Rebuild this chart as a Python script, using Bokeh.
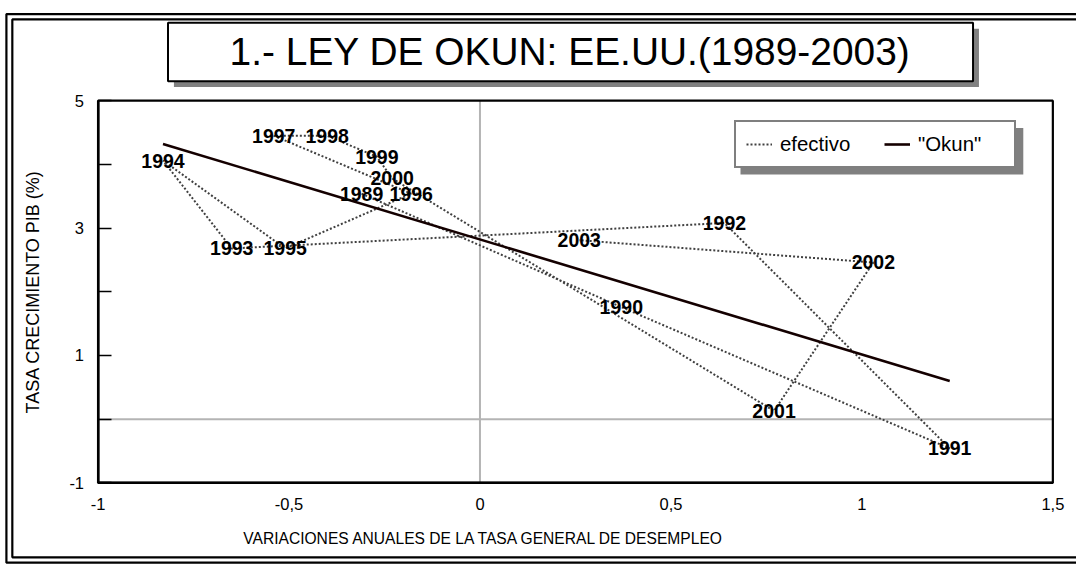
import math
from bokeh.plotting import figure
from bokeh.models import (Range1d, LinearAxis, FixedTicker, Label, Legend, LegendItem,
                          ColumnDataSource)
from bokeh.core.properties import value
from bokeh.embed import file_html
from bokeh.resources import INLINE

# ---------------- data ----------------
years = ["1989", "1990", "1991", "1992", "1993", "1994", "1995", "1996",
         "1997", "1998", "1999", "2000", "2001", "2002", "2003"]
desempleo = [-0.31, 0.37, 1.23, 0.64, -0.65, -0.83, -0.51, -0.18,
             -0.54, -0.40, -0.27, -0.23, 0.77, 1.03, 0.26]
pib = [3.54, 1.76, -0.46, 3.08, 2.68, 4.06, 2.68, 3.54,
       4.45, 4.45, 4.12, 3.78, 0.13, 2.46, 2.81]
okun_x = [-0.83, 1.23]
okun_y = [4.32, 0.60]
x_ticks = [-1, -0.5, 0, 0.5, 1, 1.5]
x_tick_labels = ["-1", "-0,5", "0", "0,5", "1", "1,5"]
y_ticks = [-1, 1, 3, 5]
y_minor = [0, 2, 4]
y_tick_labels = ["-1", "1", "3", "5"]

TITLE = "1.- LEY DE OKUN: EE.UU.(1989-2003)"
XLABEL = "VARIACIONES ANUALES DE LA TASA GENERAL DE DESEMPLEO"
YLABEL = "TASA  CRECIMIENTO PIB (%)"

# ---------------- layout ----------------
W, H = 1076, 567          # canvas
RW, RH = 1092, 583        # reference layout size
SX, SY = W / RW, H / RH
PXU, PX0 = 387.6, 486.6   # reference px per x unit, px of x=0
PYU, PY0 = 65.5, 430.5    # reference px per y unit, px of y=0
FONT = "Liberation Sans"


def dx(px):  # reference px -> data x
    return (px - PX0) / PXU


def dy(py):  # reference py -> data y
    return (PY0 - py) / PYU


def fs(size):
    return f"{size * SY:.1f}px"


p = figure(width=W, height=H, output_backend="svg", toolbar_location=None,
           x_axis_type=None, y_axis_type=None,
           x_range=Range1d(dx(0), dx(RW)), y_range=Range1d(dy(RH), dy(0)),
           min_border=0, min_border_left=0, min_border_right=0,
           min_border_top=0, min_border_bottom=0)
p.outline_line_color = None
p.background_fill_color = "white"
p.border_fill_color = "white"

# outer double border (right side lies outside the picture)
p.quad(left=[dx(6)], right=[dx(1110)], top=[dy(14)], bottom=[dy(578)],
       fill_color=None, line_color="black", line_width=2.2)
p.quad(left=[dx(12)], right=[dx(1104)], top=[dy(19.5)], bottom=[dy(572.5)],
       fill_color=None, line_color="black", line_width=2.2)

# title box with shadow
p.quad(left=[dx(176)], right=[dx(993)], top=[dy(29)], bottom=[dy(89)],
       fill_color="#808080", line_color=None)
p.quad(left=[dx(170)], right=[dx(987)], top=[dy(23)], bottom=[dy(83)],
       fill_color="white", line_color="black", line_width=2)
p.add_layout(Label(x=dx(578), y=dy(52), text=TITLE, text_align="center",
                   text_baseline="middle", text_font=FONT,
                   text_font_size=fs(40), text_color="black"))

# zero reference lines
p.segment(x0=[x_ticks[0]], y0=[0], x1=[x_ticks[-1]], y1=[0],
          line_color="#b4b4b4", line_width=2)
p.segment(x0=[0], y0=[y_ticks[0]], x1=[0], y1=[y_ticks[-1]],
          line_color="#b4b4b4", line_width=2)

# plot frame
p.quad(left=[x_ticks[0]], right=[x_ticks[-1]], bottom=[y_ticks[0]], top=[y_ticks[-1]],
       fill_color=None, line_color="black", line_width=2.2)

# data
src = ColumnDataSource(dict(x=desempleo, y=pib, year=years))
r_ef = p.line("x", "y", source=src, line_color="#404040", line_width=2,
              line_dash="2 2")
r_ok = p.line(okun_x, okun_y, line_color="#140000", line_width=2.6)
p.text("x", "y", text="year", source=src, text_align="center",
       text_baseline="middle", text_font=value(FONT), text_font_style="bold",
       text_font_size=fs(20), text_color="black")

# axes
xaxis = LinearAxis(fixed_location=y_ticks[0], bounds=(x_ticks[0], x_ticks[-1]),
                   ticker=FixedTicker(ticks=x_ticks),
                   major_label_overrides={t: l for t, l in zip(x_ticks, x_tick_labels)})
xaxis.major_tick_in = 0
xaxis.major_tick_out = 0
xaxis.minor_tick_in = 0
xaxis.minor_tick_out = 0
xaxis.axis_line_width = 2.2
xaxis.major_label_standoff = 15
xaxis.major_label_text_font = FONT
xaxis.major_label_text_font_size = fs(17)
xaxis.major_label_text_color = "black"
p.add_layout(xaxis, "below")

yaxis = LinearAxis(fixed_location=x_ticks[0], bounds=(y_ticks[0], y_ticks[-1]),
                   ticker=FixedTicker(ticks=y_ticks, minor_ticks=y_minor),
                   major_label_overrides={t: l for t, l in zip(y_ticks, y_tick_labels)})
yaxis.major_tick_in = 13
yaxis.major_tick_out = 0
yaxis.minor_tick_in = 13
yaxis.minor_tick_out = 0
yaxis.major_tick_line_width = 1.5
yaxis.minor_tick_line_width = 1.5
yaxis.axis_line_width = 2.2
yaxis.major_label_standoff = 14
yaxis.major_label_text_font = FONT
yaxis.major_label_text_font_size = fs(17)
yaxis.major_label_text_color = "black"
yaxis.major_label_orientation = "horizontal"
p.add_layout(yaxis, "left")

# axis titles
p.add_layout(Label(x=dx(491), y=dy(553), text=XLABEL, text_align="center",
                   text_baseline="middle", text_font=FONT,
                   text_font_size=fs(16), text_color="black"))
p.add_layout(Label(x=dx(33), y=dy(297), text=YLABEL, text_align="center",
                   text_baseline="middle", angle=math.pi / 2, text_font=FONT,
                   text_font_size=fs(18.5), text_color="black"))

# legend with shadow
p.quad(left=[dx(751)], right=[dx(1038)], top=[dy(131)], bottom=[dy(179)],
       fill_color="#808080", line_color=None)
legend = Legend(items=[LegendItem(label="efectivo", renderers=[r_ef]),
                       LegendItem(label='"Okun"', renderers=[r_ok])],
                orientation="horizontal",
                location=(round(745 * SX), round(H - 173 * SY)))
legend.padding = 10
legend.margin = 0
legend.spacing = 18
legend.glyph_width = 26
legend.glyph_height = 24
legend.label_width = 86
legend.label_height = 24
legend.label_standoff = 8
legend.label_text_font = FONT
legend.label_text_font_size = fs(21)
legend.label_text_color = "black"
legend.border_line_color = "black"
legend.border_line_width = 2
legend.background_fill_color = "white"
legend.background_fill_alpha = 1.0
p.add_layout(legend, "center")

open("out.html", "w").write(file_html(p, INLINE))
